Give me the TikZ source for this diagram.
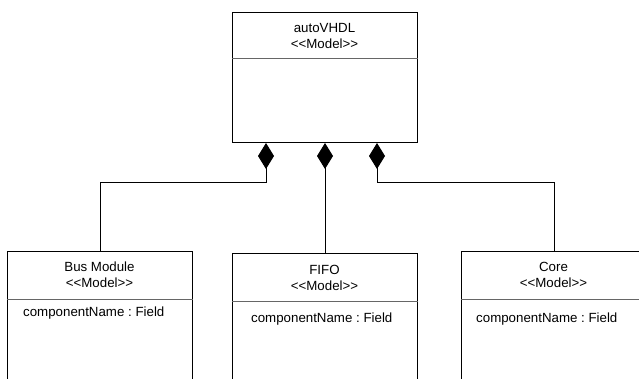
\documentclass[tikz,border=0pt]{standalone}
\usepackage{fontspec}
\setmainfont{Liberation Sans}
\usetikzlibrary{arrows.meta}
\frenchspacing
\newcommand{\stereo}{<\kern0pt<Model>\kern0pt>}
\tikzset{
  classbox/.style={draw=black, line width=1pt, anchor=north west, minimum width=185pt, inner sep=0pt},
  divline/.style={draw=black!60, line width=1pt},
  title/.style={align=center, inner sep=0pt, font=\fontsize{13.3}{16}\selectfont},
  field/.style={anchor=west, inner sep=0pt, font=\fontsize{13.3}{16}\selectfont},
  comp/.style={draw=black, line width=1pt, -{Diamond[length=26pt,width=16pt]}}
}
\begin{document}
\begin{tikzpicture}[x=1pt,y=-1pt]
    \clip (0,0) rectangle (639,379);
    % classes
    \node[classbox, minimum height=130pt] (auto) at (232,12) {};
    \node[classbox, minimum height=150pt] (bus) at (7,251) {};
    \node[classbox, minimum height=150pt] (fifo) at (232,253) {};
    \node[classbox, minimum height=150pt] (core) at (461,251) {};
    \draw[divline] ([yshift=-47pt]auto.north west) -- ([yshift=-47pt]auto.north east);
    \draw[divline] ([yshift=-48pt]bus.north west) -- ([yshift=-48pt]bus.north east);
    \draw[divline] ([yshift=-48pt]fifo.north west) -- ([yshift=-48pt]fifo.north east);
    \draw[divline] ([yshift=-48pt]core.north west) -- ([yshift=-48pt]core.north east);
    \node[title] (autoT) at (324.5,35.5) {autoVHDL\\\stereo};
    \node[title] (busT) at (99.5,275) {Bus Module\\\stereo};
    \node[title] (fifoT) at (324.5,277.5) {FIFO\\\stereo};
    \node[title] (coreT) at (553.5,275) {Core\\\stereo};
    \node[field] (busF) at (23,313) {componentName : Field};
    \node[field] (fifoF) at (251,319) {componentName : Field};
    \node[field] (coreF) at (476,319) {componentName : Field};
    % composition
    \draw[comp] (bus.north) -- ++(0,-68) -| ([xshift=34pt]auto.south west);
    \draw[comp] (fifo.north) -- (auto.south);
    \draw[comp] (core.north) -- ++(0,-68) -| ([xshift=-41pt]auto.south east);
\end{tikzpicture}
\end{document}
